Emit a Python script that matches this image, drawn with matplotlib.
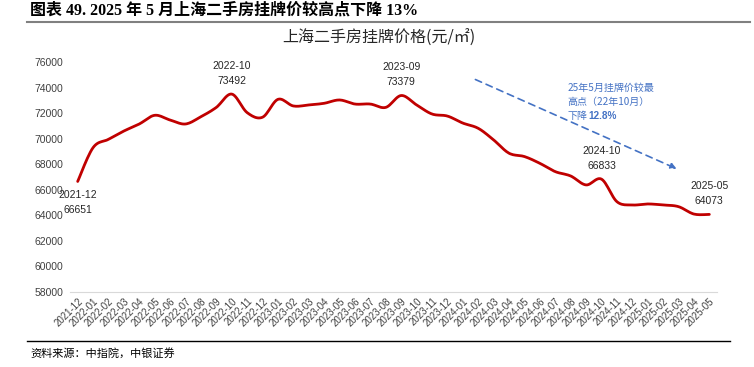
import numpy as np
import matplotlib.pyplot as plt
from matplotlib.lines import Line2D

plt.rcParams['font.family'] = ['Liberation Sans', 'Noto Sans CJK SC', 'DejaVu Sans']

# monthly listing price, yuan per square metre
months = ['2021-12'] + ['2022-%02d' % m for m in range(1, 13)] + \
         ['2023-%02d' % m for m in range(1, 13)] + \
         ['2024-%02d' % m for m in range(1, 13)] + \
         ['2025-%02d' % m for m in range(1, 6)]
prices = [66651, 69300, 69950, 70600, 71150, 71830, 71460, 71150, 71720, 72450,
          73492, 72040, 71680, 73080, 72560, 72640, 72770, 73030, 72710, 72710,
          72450, 73379, 72640, 71930, 71770, 71220, 70810, 69900, 68860, 68600,
          68070, 67420, 67080, 66380, 66833, 65070, 64810, 64890, 64810, 64680,
          64100, 64073]
# labelled points: (month, value)
marks = [('2021-12', 66651), ('2022-10', 73492), ('2023-09', 73379),
         ('2024-10', 66833), ('2025-05', 64073)]
note = '25年5月挂牌价较最\n高点（22年10月）'
note_fall = '下降'
note_pct = '12.8%'

CJK = ['Noto Sans CJK SC', 'DejaVu Sans']


def smooth(x, y, n=12):
    # Catmull-Rom style smoothing like Excel's smoothed line
    x = np.asarray(x, float)
    y = np.asarray(y, float)
    px = np.concatenate([[x[0]], x, [x[-1]]])
    py = np.concatenate([[y[0]], y, [y[-1]]])
    xs, ys = [], []
    t = np.linspace(0, 1, n, endpoint=False)
    for i in range(1, len(px) - 2):
        p0, p1, p2, p3 = py[i - 1], py[i], py[i + 1], py[i + 2]
        q0, q1, q2, q3 = px[i - 1], px[i], px[i + 1], px[i + 2]
        b1y, b2y = p1 + (p2 - p0) / 6, p2 - (p3 - p1) / 6
        b1x, b2x = q1 + (q2 - q0) / 6, q2 - (q3 - q1) / 6
        ys.append((1 - t) ** 3 * p1 + 3 * (1 - t) ** 2 * t * b1y + 3 * (1 - t) * t ** 2 * b2y + t ** 3 * p2)
        xs.append((1 - t) ** 3 * q1 + 3 * (1 - t) ** 2 * t * b1x + 3 * (1 - t) * t ** 2 * b2x + t ** 3 * q2)
    xs.append([x[-1]])
    ys.append([y[-1]])
    return np.concatenate(xs), np.concatenate(ys)


fig = plt.figure(figsize=(7.54, 3.67), dpi=100)
ax = fig.add_axes([0.0928, 0.2044, 0.8582, 0.6266])

idx = np.arange(len(months))
sx, sy = smooth(idx, prices)
ax.plot(sx, sy, color='#C00000', lw=2, solid_capstyle='round')

ax.set_xlim(-0.5, len(months) - 0.5)
ax.set_ylim(58000, 76000)
ax.set_yticks(np.arange(58000, 76001, 2000))
ax.set_xticks(idx)
ax.set_xticklabels(months, rotation=45, ha='right', rotation_mode='anchor', fontsize=7, color='#404040')
ax.tick_params(axis='y', labelsize=7.5, length=0, pad=5, labelcolor='#404040')
ax.tick_params(axis='x', length=0, pad=3)
for s in ['top', 'right', 'left']:
    ax.spines[s].set_visible(False)
ax.spines['bottom'].set_color('#D9D9D9')

for m, v in marks:
    i = months.index(m)
    dy = -6 if m == '2021-12' else 6
    ax.annotate('%s\n%d' % (m, v), (i, v), xytext=(0, dy), textcoords='offset points',
                ha='center', va='bottom' if dy > 0 else 'top', fontsize=7.5,
                color='#262626', linespacing=1.6)

# dashed trend arrow
ax.annotate('', xy=(39.05, 67550), xytext=(25.65, 74720),
            arrowprops=dict(arrowstyle='-|>', color='#4472C4', lw=1.2,
                            linestyle=(0, (4, 3)), mutation_scale=9))
t1 = ax.text(31.8, 74400, note, fontsize=7.2, color='#4472C4', va='top', ha='left',
             linespacing=1.55, family=CJK)
t2 = ax.annotate(note_fall, xy=(0, 0), xycoords=t1, xytext=(0, -3), textcoords='offset points',
                 fontsize=7.2, color='#4472C4', va='top', ha='left', family=CJK)
ax.annotate(note_pct, xy=(1, 0.5), xycoords=t2, xytext=(0.5, 0), textcoords='offset points',
            fontsize=7.2, color='#4472C4', va='center', ha='left', fontweight='bold')

fig.text(0.503, 0.897, '上海二手房挂牌价格(元/㎡)', fontsize=11.5, ha='center', va='center',
         color='#262626', family=CJK)

fig.text(0.04, 0.972, '图表 49. 2025 年 5 月上海二手房挂牌价较高点下降 13%', fontsize=11.5,
         fontweight='bold', va='center', family=['Liberation Serif', 'Noto Sans CJK SC', 'DejaVu Sans'])
fig.add_artist(Line2D([0.036, 0.995], [0.941, 0.941], color='#808080', lw=1.5))
fig.add_artist(Line2D([0.036, 0.968], [0.071, 0.071], color='black', lw=1))
fig.text(0.04, 0.038, '资料来源：中指院，中银证券', fontsize=8, style='italic', va='center', family=CJK)

fig.savefig('out.png', dpi=100)
